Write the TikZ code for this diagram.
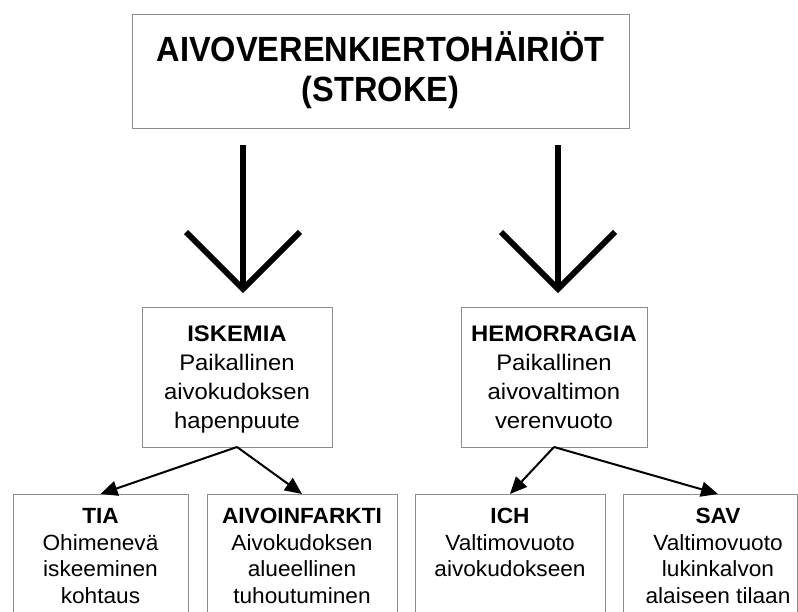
\documentclass[tikz,border=0pt]{standalone}
\usepackage{fontspec}
\setmainfont{Liberation Sans}
\newfontfamily\titlefont{Liberation Sans}[FakeStretch=0.93]
\newfontfamily\midfontfam{Liberation Sans}[FakeStretch=1.06]
\newfontfamily\botfontfam{Liberation Sans}[FakeStretch=1.03]
\usetikzlibrary{arrows.meta,calc}
\begin{document}
\begin{tikzpicture}[x=1pt,y=-1pt,
  box/.style={draw=black!45, line width=1pt, inner sep=0pt, outer sep=0pt, anchor=north west},
  ttext/.style={anchor=base, inner sep=0pt, align=center, font=\fontsize{35}{40}\titlefont\bfseries},
  mtext/.style={anchor=base, inner sep=0pt, align=center, font=\fontsize{22.5}{29}\midfontfam},
  btext/.style={anchor=base, inner sep=0pt, align=center, font=\fontsize{22}{26.7}\botfontfam},
  bigarrow/.style={line width=6pt, line join=miter, black},
  smallarrow/.style={line width=2pt, -{Triangle[length=17pt,width=15pt]}}]
\clip (0,0) rectangle (798,612);
\fill[white] (0,0) rectangle (798,612);

\node[box, minimum width=497pt, minimum height=114pt] (top) at (132,15) {};
\node[ttext] (topt) at ($(top.north)+(0,87)$) {AIVOVERENKIERTOHÄIRIÖT\\(STROKE)};

\node[box, minimum width=190pt, minimum height=139pt] (isk) at (142,308) {};
\node[box, minimum width=186pt, minimum height=139pt] (hem) at (461,308) {};
\node[mtext] (iskt) at ($(isk.north)+(0,120)$) {\textbf{ISKEMIA}\\Paikallinen\\aivokudoksen\\hapenpuute};
\node[mtext] (hemt) at ($(hem.north)+(0,120)$) {\textbf{HEMORRAGIA}\\Paikallinen\\aivovaltimon\\verenvuoto};

\node[box, minimum width=175pt, minimum height=140pt] (tia) at (13,494) {};
\node[box, minimum width=190pt, minimum height=140pt] (inf) at (207,494) {};
\node[box, minimum width=190pt, minimum height=140pt] (ich) at (415,494) {};
\node[box, minimum width=174pt, minimum height=140pt] (sav) at (623,494) {};

\node[btext] (tiat) at ($(tia.north)+(0,109.6)$) {\textbf{TIA}\\Ohimenevä\\iskeeminen\\kohtaus};
\node[btext] (inft) at ($(inf.north)+(0,109.6)$) {\textbf{AIVOINFARKTI}\\Aivokudoksen\\alueellinen\\tuhoutuminen};
\node[btext] (icht) at ($(ich.north)+(0,82.9)$) {\textbf{ICH}\\Valtimovuoto\\aivokudokseen};
\node[btext] (savt) at ($(sav.north west)+(95,109.6)$) {\textbf{SAV}\\Valtimovuoto\\lukinkalvon\\alaiseen tilaan};

\coordinate (a1top) at (243,145);
\coordinate (a1tip) at (243,289);
\coordinate (a2top) at (558,145);
\coordinate (a2tip) at (558,289);
\draw[bigarrow] (a1top) -- (a1tip);
\draw[bigarrow] ($(a1tip)+(-57,-57)$) -- (a1tip) -- ($(a1tip)+(57,-57)$);
\draw[bigarrow] (a2top) -- (a2tip);
\draw[bigarrow] ($(a2tip)+(-57,-57)$) -- (a2tip) -- ($(a2tip)+(57,-57)$);

\draw[smallarrow] (isk.south) -- (tia.north);
\draw[smallarrow] (isk.south) -- (inf.north);
\draw[smallarrow] (hem.south) -- (ich.north);
\draw[smallarrow] (hem.south) -- (sav.north -| savt);
\end{tikzpicture}
\end{document}
